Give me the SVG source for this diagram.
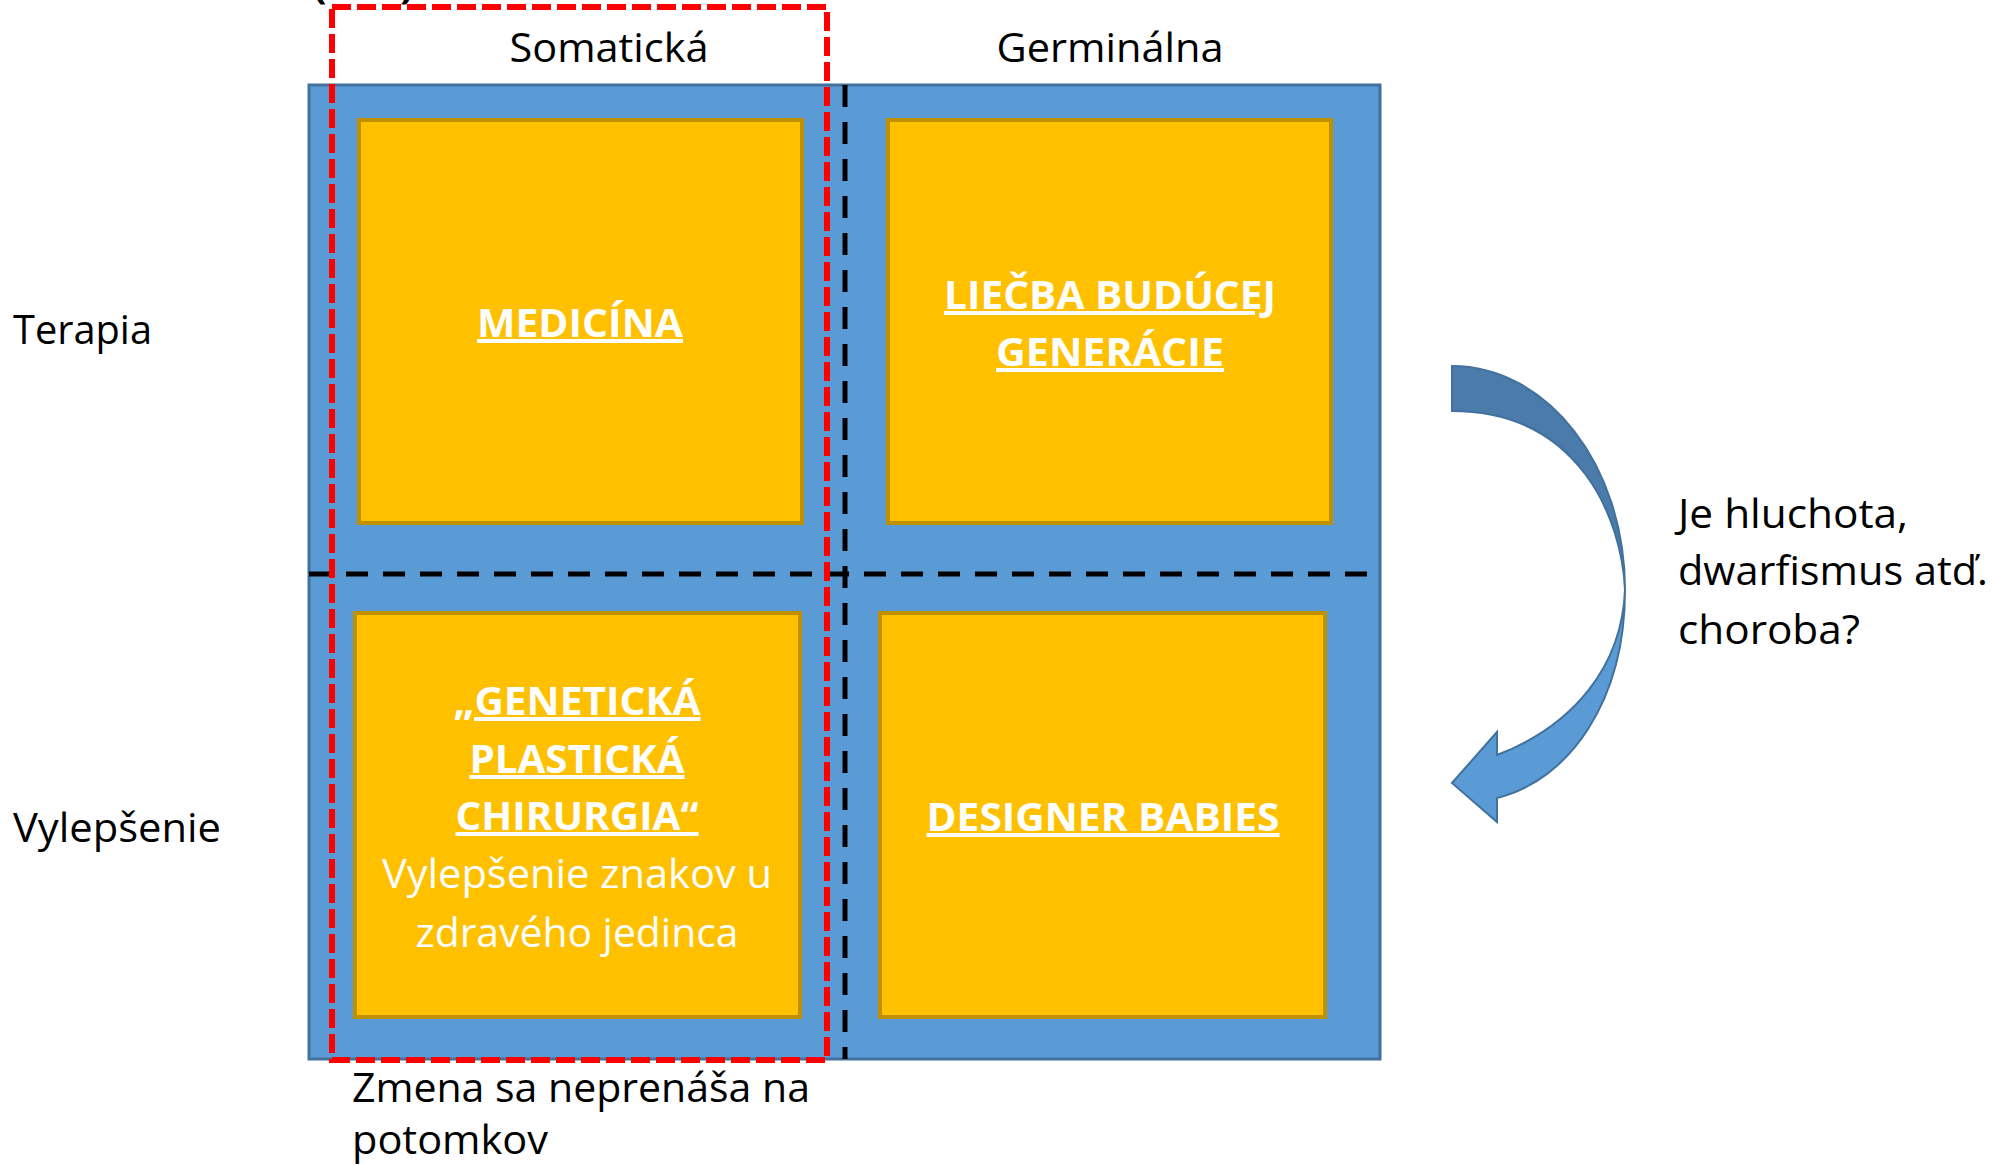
<svg xmlns="http://www.w3.org/2000/svg" width="1995" height="1165" viewBox="0 0 1995 1165">
<style>
text{font-family:"Open Sans","Noto Sans","Liberation Sans",sans-serif;font-size:40px;}
.lbl{fill:#000;}
.w{fill:#fff;}
.b{font-weight:bold;text-decoration:underline;}
.box{fill:#FFC000;stroke:#BF9000;stroke-width:4;}
.bdash{stroke:#000;stroke-width:5;stroke-dasharray:22 15;fill:none;}
.rdash{stroke:#FF0000;stroke-width:6;stroke-dasharray:19 6;fill:none;}
</style>
<rect width="1995" height="1165" fill="#fff"/>
<g id="frag">
<text class="lbl" x="313" y="-2" font-size="46" font-weight="bold">(</text>
<text class="lbl" x="400" y="-2" font-size="46" font-weight="bold">)</text>
</g>
<g id="grid">
<rect x="309" y="85" width="1071" height="974" fill="#5B9BD5" stroke="#41719C" stroke-width="3"/>
</g>
<g id="n-medicina">
<rect class="box" x="359" y="120" width="443" height="403"/>
<text class="w b" x="580" y="337" text-anchor="middle" textLength="206" lengthAdjust="spacingAndGlyphs">MEDICÍNA</text>
</g>
<g id="n-liecba">
<rect class="box" x="888" y="120" width="443" height="403"/>
<text class="w b" x="1110" y="309" text-anchor="middle" textLength="332" lengthAdjust="spacingAndGlyphs">LIEČBA BUDÚCEJ</text>
<text class="w b" x="1110" y="366" text-anchor="middle" textLength="228" lengthAdjust="spacingAndGlyphs">GENERÁCIE</text>
</g>
<g id="n-plasticka">
<rect class="box" x="355" y="613" width="445" height="404"/>
<text class="w b" x="577" y="715" text-anchor="middle" textLength="247" lengthAdjust="spacingAndGlyphs">„GENETICKÁ</text>
<text class="w b" x="577" y="773" text-anchor="middle" textLength="215" lengthAdjust="spacingAndGlyphs">PLASTICKÁ</text>
<text class="w b" x="577" y="830" text-anchor="middle" textLength="243" lengthAdjust="spacingAndGlyphs">CHIRURGIA“</text>
<text class="w" x="577" y="888" text-anchor="middle" textLength="390" lengthAdjust="spacingAndGlyphs">Vylepšenie znakov u</text>
<text class="w" x="577" y="947" text-anchor="middle" textLength="323" lengthAdjust="spacingAndGlyphs">zdravého jedinca</text>
</g>
<g id="n-designer">
<rect class="box" x="880" y="613" width="445" height="404"/>
<text class="w b" x="1103" y="831" text-anchor="middle" textLength="353" lengthAdjust="spacingAndGlyphs">DESIGNER BABIES</text>
</g>
<g id="connectors">
<line class="bdash" x1="309" y1="574" x2="1380" y2="574"/>
<line class="bdash" x1="845" y1="85" x2="845" y2="1059"/>
<rect class="rdash" x="332" y="7" width="495" height="1053"/>
<path d="M1452,366 C1547,366 1625,465 1625,590 C1622,520 1580,411 1452,411 Z" fill="#4A7BAA" stroke="#41719C" stroke-width="2"/>
<path d="M1625,590 C1625,700 1570,780 1497,798 L1497,822 L1452,783 L1497,732 L1497,755 C1575,725 1622,665 1625,590 Z" fill="#5B9BD5" stroke="#41719C" stroke-width="2"/>
</g>
<g id="labels">
<text class="lbl" x="609" y="62" text-anchor="middle" textLength="199" lengthAdjust="spacingAndGlyphs">Somatická</text>
<text class="lbl" x="1110" y="62" text-anchor="middle" textLength="227" lengthAdjust="spacingAndGlyphs">Germinálna</text>
<text class="lbl" x="13" y="344" textLength="139" lengthAdjust="spacingAndGlyphs">Terapia</text>
<text class="lbl" x="13" y="842" textLength="208" lengthAdjust="spacingAndGlyphs">Vylepšenie</text>
<text class="lbl" x="1678" y="528" textLength="230" lengthAdjust="spacingAndGlyphs">Je hluchota,</text>
<text class="lbl" x="1678" y="585" textLength="310" lengthAdjust="spacingAndGlyphs">dwarfismus atď.</text>
<text class="lbl" x="1678" y="644" textLength="182" lengthAdjust="spacingAndGlyphs">choroba?</text>
<text class="lbl" x="352" y="1102" textLength="458" lengthAdjust="spacingAndGlyphs">Zmena sa neprenáša na</text>
<text class="lbl" x="352" y="1154" textLength="196" lengthAdjust="spacingAndGlyphs">potomkov</text>
</g>
</svg>
